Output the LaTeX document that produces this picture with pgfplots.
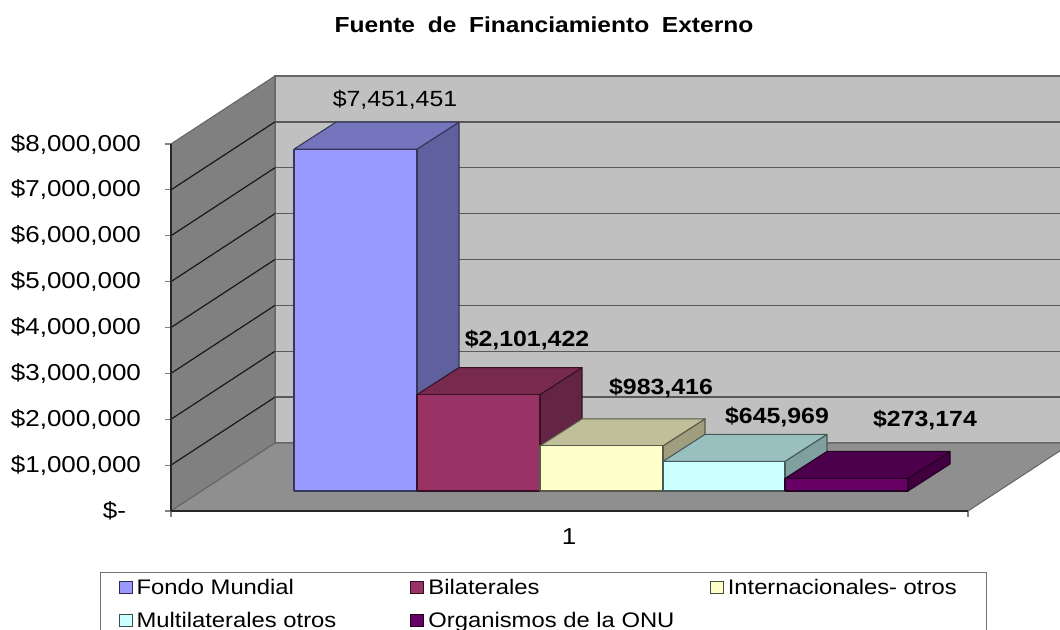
\documentclass[border=0pt]{standalone}
\usepackage{fontspec}
\setmainfont{Liberation Sans}[FakeStretch=1.13]
\usepackage{pgfplots}
\pgfplotsset{compat=1.18}
\definecolor{wallc}{HTML}{C0C0C0}
\definecolor{sidec}{HTML}{808080}
\definecolor{floorc}{HTML}{8F8F8F}
\definecolor{a1}{HTML}{9999FF}\definecolor{a2}{HTML}{7575BD}\definecolor{a3}{HTML}{60609F}
\definecolor{b1}{HTML}{993366}\definecolor{b2}{HTML}{772A4E}\definecolor{b3}{HTML}{632543}
\definecolor{c1}{HTML}{FFFFCC}\definecolor{c2}{HTML}{BFBF99}\definecolor{c3}{HTML}{9F9F80}
\definecolor{d1}{HTML}{CCFFFF}\definecolor{d2}{HTML}{99BFBF}\definecolor{d3}{HTML}{80A0A0}
\definecolor{e1}{HTML}{660066}\definecolor{e2}{HTML}{4C004C}\definecolor{e3}{HTML}{400040}
% one polygon: x in pixels, h = share of the value, d = pixels above the front plane
\newcommand\face[3]{\addplot[#1,forget plot,no markers,sharp plot] table[row sep=\\,x=x,y expr=\thisrow{h}*#2+\thisrow{d}*21798]{x h d\\ #3};}
% one bar: left, right, value, colour stem
\newcommand\cube[4]{%
  \pgfmathsetmacro\xl{#1}\pgfmathsetmacro\xr{#2}%
  \pgfmathsetmacro\xlb{#1+42}\pgfmathsetmacro\xrb{#2+42}%
  \edef\sidepts{\xr\space 0 20\noexpand\\ \xrb\space 0 47\noexpand\\ \xrb\space 1 47\noexpand\\ \xr\space 1 20\noexpand\\ \xr\space 0 20\noexpand\\}%
  \edef\toppts{\xl\space 1 20\noexpand\\ \xr\space 1 20\noexpand\\ \xrb\space 1 47\noexpand\\ \xlb\space 1 47\noexpand\\ \xl\space 1 20\noexpand\\}%
  \edef\frontpts{\xl\space 0 20\noexpand\\ \xr\space 0 20\noexpand\\ \xr\space 1 20\noexpand\\ \xl\space 1 20\noexpand\\ \xl\space 0 20\noexpand\\}%
  \expandafter\cubeface\expandafter{\sidepts}{#3}{#43}{#41}%
  \expandafter\cubeface\expandafter{\toppts}{#3}{#42}{#41}%
  \expandafter\cubeface\expandafter{\frontpts}{#3}{#41}{#41}%
}
\newcommand\cubeface[4]{\face{fill=#3,draw=#4!35!black,line width=0.8pt,line join=round}{#2}{#1}}
\newcommand\lgimg[1]{\addlegendimage{fill=#11,draw=#11!30!black,line width=0.8pt}}
\begin{document}
\begin{tikzpicture}
\path[use as bounding box,clip] (0,0) rectangle (795pt,472.5pt);
\begin{axis}[
  at={(0pt,0pt)},anchor=south west,scale only axis,width=795pt,height=472.5pt,
  xmin=0,xmax=1060,ymin=-2593962,ymax=11138778,axis lines=none,
  legend columns=3,
  legend image code/.code={\draw[#1,line width=0.8pt] (0pt,-4.6pt) rectangle (9.75pt,4.6pt);},
  legend style={at={(100/1060,58/630)},anchor=north west,draw=black!55,line width=0.8pt,
    font=\fontsize{15.8}{19}\selectfont,inner xsep=13.5pt,inner ysep=3pt,
    row sep=7.5pt,
    /tikz/every odd column/.append style={column sep=1pt},
    /tikz/every even column/.append style={column sep=0pt}},
  legend cell align=left,
]
% walls and floor
\face{fill=wallc,draw=black!60,line width=0.8pt}{0}{275 0 68\\1080 0 68\\1080 0 435\\275 0 435\\275 0 68\\}
\face{fill=sidec,draw=black!60,line width=0.8pt}{0}{171 0 0\\275 0 68\\275 0 435\\171 0 367\\171 0 0\\}
\face{fill=floorc,draw=black!60,line width=0.8pt}{0}{171 0 0\\275 0 68\\1072 0 68\\968 0 0\\171 0 0\\}
% grid lines
\pgfplotsinvokeforeach{1,...,7}{
  \face{draw=black!90,line width=0.9pt}{1000000}{171 #1 0\\275 #1 68\\}
  \face{draw=black!65,line width=1.1pt}{1000000}{275 #1 68\\1080 #1 68\\}
}
% bars
\cube{294}{417}{7451451}{a}
\cube{417}{540}{2101422}{b}
\cube{540}{663}{983416}{c}
\cube{663}{785}{645969}{d}
\cube{785}{908}{273174}{e}
% legend
\lgimg{a}\lgimg{b}\lgimg{c}\lgimg{d}\lgimg{e}
\legend{\makebox[203.3pt][l]{Fondo Mundial},\makebox[209pt][l]{Bilaterales},\makebox[178.5pt][l]{Internacionales- otros},Multilaterales otros,Organismos de la ONU}
% text
\node[font=\fontsize{16.3}{18}\selectfont\bfseries] at (axis cs:544,10594000) {\spaceskip=9.5pt Fuente de Financiamiento Externo};
\node[font=\fontsize{16.5}{20}\selectfont] at (axis cs:395,8959000) {\$7,451,451};
\node[font=\fontsize{16.5}{20}\selectfont\bfseries] at (axis cs:527,3727000) {\$2,101,422};
\node[font=\fontsize{16.5}{20}\selectfont\bfseries] at (axis cs:661,2681000) {\$983,416};
\node[font=\fontsize{16.5}{20}\selectfont\bfseries] at (axis cs:777,2049000) {\$645,969};
\node[font=\fontsize{16.5}{20}\selectfont\bfseries] at (axis cs:925,1984000) {\$273,174};
\end{axis}
\begin{axis}[
  at={(128.25pt,89.25pt)},anchor=south west,scale only axis,width=597.75pt,height=275.25pt,
  xmin=171,xmax=968,ymin=0,ymax=8000000,
  axis x line=bottom,axis y line=left,axis line style={draw=black!85,line width=0.9pt,-},
  tick align=outside,major tick length=4.5pt,
  every tick/.style={draw=black!50,line width=0.8pt},
  xtick={171,968},xticklabels={,},
  extra x ticks={569},extra x tick labels={1},
  extra x tick style={major tick length=0pt,tick label style={yshift=-9.75pt}},
  ytick={0,1000000,2000000,3000000,4000000,5000000,6000000,7000000,8000000},
  yticklabels={{\makebox[28.5pt][l]{\$-}},{\$1,000,000},{\$2,000,000},{\$3,000,000},{\$4,000,000},{\$5,000,000},{\$6,000,000},{\$7,000,000},{\$8,000,000}},
  scaled y ticks=false,
  tick label style={font=\fontsize{17.25}{20}\selectfont},
  yticklabel style={xshift=-14.5pt},
]
\end{axis}
\end{tikzpicture}
\end{document}
